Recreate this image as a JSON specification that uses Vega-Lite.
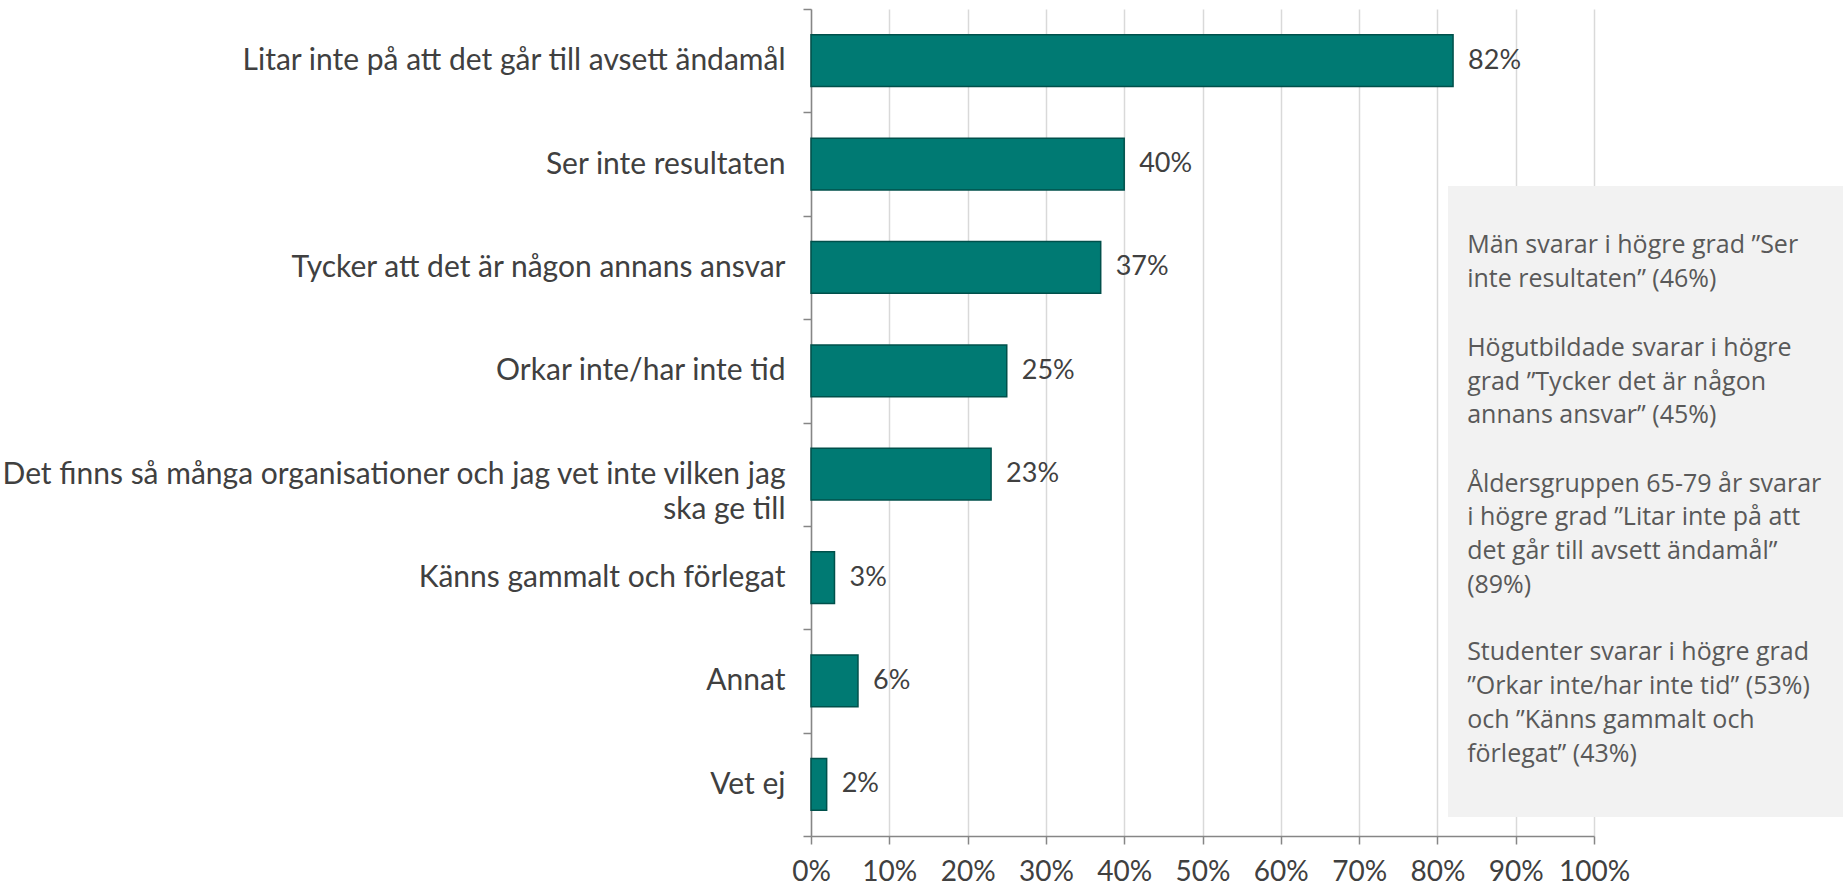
{
  "$schema": "https://vega.github.io/schema/vega-lite/v6.json",
  "autosize": "none",
  "width": 783,
  "height": 827,
  "padding": {"left": 811, "top": 9, "right": 249, "bottom": 54},
  "background": "white",
  "config": {"view": {"stroke": null}},
  "datasets": {
    "reasons": [
      {"reason": "Litar inte på att det går till avsett ändamål", "share": 82},
      {"reason": "Ser inte resultaten", "share": 40},
      {"reason": "Tycker att det är någon annans ansvar", "share": 37},
      {"reason": "Orkar inte/har inte tid", "share": 25},
      {"reason": "Det finns så många organisationer och jag vet inte vilken jag ska ge till", "share": 23},
      {"reason": "Känns gammalt och förlegat", "share": 3},
      {"reason": "Annat", "share": 6},
      {"reason": "Vet ej", "share": 2}
    ]
  },
  "layer": [
    {
      "data": {"name": "reasons"},
      "encoding": {
        "y": {
          "field": "reason", "type": "nominal", "sort": null, "title": null,
          "scale": {"paddingInner": 0, "paddingOuter": 0},
          "axis": {
            "tickBand": "extent", "tickSize": 8, "tickColor": "#868686", "tickWidth": 1.5,
            "domainColor": "#868686", "domainWidth": 1.5,
            "labelFont": "Lato", "labelFontSize": 30, "labelColor": "#404040", "labelPadding": 18, "labelLimit": 900,
            "labelLineHeight": 35,
            "labelExpr": "datum.label == 'Det finns så många organisationer och jag vet inte vilken jag ska ge till' ? ['Det finns så många organisationer och jag vet inte vilken jag', 'ska ge till'] : datum.label"
          }
        },
        "x": {
          "field": "share", "type": "quantitative", "title": null,
          "scale": {"domain": [0, 100], "nice": false},
          "axis": {
            "values": [0, 10, 20, 30, 40, 50, 60, 70, 80, 90, 100],
            "labelExpr": "datum.value + '%'", "labelOverlap": false, "labelFlush": false, "labelBound": false,
            "grid": true, "gridColor": "#D9D9D9", "gridWidth": 1.5,
            "domainColor": "#868686", "domainWidth": 1.5,
            "tickColor": "#868686", "tickWidth": 1.5, "tickSize": 8,
            "labelFont": "Lato", "labelFontSize": 28, "labelColor": "#404040", "labelPadding": 14
          }
        }
      },
      "layer": [
        {
          "mark": {"type": "bar", "color": "#007A73", "stroke": "#00504B", "strokeWidth": 1.5, "height": {"band": 0.5}}
        },
        {
          "transform": [{"calculate": "datum.share + '%'", "as": "lbl"}],
          "mark": {"type": "text", "align": "left", "baseline": "middle", "dx": 15, "font": "Lato", "fontSize": 27, "color": "#404040"},
          "encoding": {"text": {"field": "lbl", "type": "nominal"}}
        }
      ]
    },
    {
      "data": {"values": [{}]},
      "encoding": {
        "y": {"datum": 0.214, "type": "quantitative", "scale": {"domain": [0, 1], "reverse": true}, "axis": null}
      },
      "layer": [
        {
          "mark": {"type": "rect", "color": "#F2F2F2"},
          "encoding": {
            "x": {"datum": 81.35, "type": "quantitative"},
            "x2": {"datum": 135},
            "y2": {"datum": 0.977}
          }
        },
        {
          "mark": {
            "type": "text", "align": "left", "baseline": "top", "font": "Open Sans", "fontSize": 25,
            "lineHeight": 33.7, "color": "#595959",
            "text": ["Män svarar i högre grad ”Ser", "inte resultaten” (46%)"]
          },
          "encoding": {
            "x": {"datum": 83.8, "type": "quantitative"},
            "y": {"datum": 0.271, "type": "quantitative"}
          }
        },
        {
          "mark": {
            "type": "text", "align": "left", "baseline": "top", "font": "Open Sans", "fontSize": 25,
            "lineHeight": 33.7, "color": "#595959",
            "text": ["Högutbildade svarar i högre", "grad ”Tycker det är någon", "annans  ansvar” (45%)"]
          },
          "encoding": {
            "x": {"datum": 83.8, "type": "quantitative"},
            "y": {"datum": 0.3954, "type": "quantitative"}
          }
        },
        {
          "mark": {
            "type": "text", "align": "left", "baseline": "top", "font": "Open Sans", "fontSize": 25,
            "lineHeight": 33.7, "color": "#595959",
            "text": ["Åldersgruppen 65-79 år svarar", "i högre grad ”Litar inte på att", "det går till avsett ändamål”", "(89%)"]
          },
          "encoding": {
            "x": {"datum": 83.8, "type": "quantitative"},
            "y": {"datum": 0.5596, "type": "quantitative"}
          }
        },
        {
          "mark": {
            "type": "text", "align": "left", "baseline": "top", "font": "Open Sans", "fontSize": 25,
            "lineHeight": 33.7, "color": "#595959",
            "text": ["Studenter svarar i högre grad", "”Orkar inte/har inte tid” (53%)", "och ”Känns gammalt och", "förlegat” (43%)"]
          },
          "encoding": {
            "x": {"datum": 83.8, "type": "quantitative"},
            "y": {"datum": 0.7635, "type": "quantitative"}
          }
        }
      ]
    }
  ],
  "resolve": {"scale": {"y": "independent"}, "axis": {"y": "independent"}}
}
